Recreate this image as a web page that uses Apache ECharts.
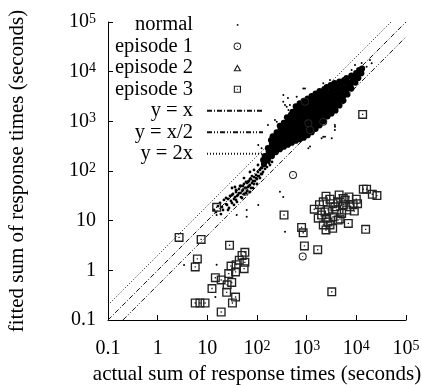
<!DOCTYPE html>
<html><head><meta charset="utf-8">
<script src="https://cdn.jsdelivr.net/npm/echarts@6/dist/echarts.min.js"></script>
<style>html,body{margin:0;padding:0;background:#fff}#c{width:422px;height:385px}</style>
</head><body><div id="c"></div>
<script>
// ---------- data ----------
const tickLabels = ['0.1', '1', '10', '10^2', '10^3', '10^4', '10^5'];

const normalCore = [
 [138,138],[133,166],[143,200],
 [166,166],[160,200],[172,240],[166,288],
 [200,200],[192,240],[207,288],[200,347],[192,417],[207,501],
 [240,240],[231,288],[249,347],[240,417],[231,501],[249,603],
 [288,275],[277,331],[299,398],[288,479],[277,575],[299,692],[288,813],
 [347,309],[334,372],[360,447],[347,537],[334,646],[360,776],[347,933],
 [417,339],[401,407],[432,490],[417,589],[401,708],[432,851],[417,1023],[401,1202],
 [501,372],[482,447],[520,537],[501,646],[482,776],[520,933],[501,1122],[482,1349],[520,1549],
 [603,407],[580,490],[625,589],[603,708],[580,851],[625,1023],[603,1230],[580,1479],[625,1778],[603,1995],
 [724,437],[697,525],[751,631],[724,759],[697,912],[751,1096],[724,1318],[697,1585],[751,1905],[724,2291],
 [871,468],[838,562],[903,676],[871,813],[838,977],[903,1175],[871,1413],[838,1698],[903,2042],[871,2570],
 [1047,525],[1007,631],[1086,759],[1047,912],[1007,1096],[1086,1318],[1047,1585],[1007,1905],[1086,2291],[1047,2884],
 [1259,603],[1211,724],[1306,871],[1259,1047],[1211,1259],[1306,1514],[1259,1820],[1211,2188],[1306,2630],[1259,3236],
 [1514,708],[1456,851],[1570,1023],[1514,1230],[1456,1479],[1570,1778],[1514,2138],[1456,2570],[1570,3090],[1514,3631],
 [1820,832],[1751,1000],[1888,1202],[1820,1445],[1751,1738],[1888,2089],[1820,2512],[1751,3020],[1888,3631],[1820,4074],
 [2188,1000],[2105,1202],[2270,1445],[2188,1738],[2105,2089],[2270,2512],[2188,3020],[2105,3631],[2270,4467],
 [2630,1259],[2530,1514],[2728,1820],[2630,2188],[2530,2630],[2728,3162],[2630,3802],[2530,4898],
 [3162,1445],[3042,1738],[3280,2089],[3162,2512],[3042,3020],[3280,3631],[3162,4365],[3042,5370],
 [3802,1660],[3658,1995],[3944,2399],[3802,2884],[3658,3467],[3944,4169],[3802,5012],[3658,5888],
 [4571,2089],[4397,2512],[4742,3020],[4571,3631],[4397,4365],[4742,5248],[4571,6310],
 [5495,2630],[5286,3162],[5701,3802],[5495,4571],[5286,5495],[5701,6761],
 [6607,3467],[6356,4169],[6854,5012],[6607,6026],[6356,7413],
 [7943,4571],[7641,5495],[8241,6607],[7943,8318],
 [9550,6026],[9187,7244],[9907,9333],
 [10965,7413],[10548,9120],[11375,10715],
 [12589,9333],[13060,11482]
];

const normalTail = [
 [13.6,16.4],[16.4,19.7],[18,22.7],[19.7,18.8],[21.6,26.1],[23.8,21.6],[26.1,27.3],[28.6,31.4],
 [29.9,24.9],[32.9,34.4],[36,29.9],[37.8,37.8],[41.4,32.9],[43.4,43.4],[45.5,36],[47.6,49.9],
 [52.2,41.4],[54.7,54.7],[57.3,45.5],[60,36],[62.9,57.3],[65.9,47.6],[69,62.9],[72.2,52.2],
 [75.6,69],[79.2,57.3],[83,45.5],[86.9,75.6],[91.1,62.9],[95.4,83],[100,69],[104.7,95.4],
 [109.7,79],[114.9,105],[120.3,87],[126.1,115],[132,95.4],[138.3,132],[144.9,110],[151.8,145],
 [158.9,120],[166.4,166],[182.6,183],[200.4,152],[37.8,26.1],[49.9,28.6],[26.1,16.4],[72.2,37.8],
 [31.4,45.5],[54.7,72.2],[18.8,13.6],[86.9,105],[151.8,200],
 [14.9,14.9],[20.7,16.4],[24.9,20.7],[27.3,18],[31.4,22.7],[34.4,27.3],[34.4,20.7],[39.5,31.4],
 [39.5,23.8],[43.4,36],[47.6,29.9],[49.9,39.5],[52.2,49.9],[54.7,34.4],[60,45.5],[62.9,39.5],
 [65.9,60],[69,49.9],[72.2,69],[75.6,45.5],[79.2,79],[83,62.9],[86.9,54.7],[95.4,72.2],
 [100,54.7],[104.7,79],[114.9,72.2],[120.3,115],[126.1,87],[132,126],[144.9,166],[144.9,132],
 [158.9,183],[174,145],[182.6,132],[60,60],[45.5,49.9],[37.8,41.4],[31.4,32.9],[36,47.6],
 [23.8,28.6],[72.2,95.4],[104.7,132]
];

const normalSparse = [
 [340,3400],[430,1690],[250,980],[2950,6800],[3700,840],[3200,455],[1170,310],[18800,17200],
 [925,4600],[420,2950],[366,2130],[230,1060],[166,840],[500,1560],[3190,5400],[5900,6300],
 [8050,10800],[9400,13600],[12800,14900],[2000,455],[1470,670],[2340,490],[3720,780],[106,333],
 [124,286],[2160,490],[3700,670],[1080,286],[855,4600],[338,2480],[396,1970],[461,2130],
 [630,3130],[5460,2300],[2160,5830],[10200,10000],[16100,12600],[20400,14700],[366,6],[106,20.7],
 [62,16.4],[39,13],[15.4,13],[15.4,1.3],[14.5,0.29],[3.4,1.28],[290,38],[338,30],[62,12]
];

const episode1 = [[531,83],[832,1.9],[925,2480],[1170,670],[57,38],[2160,980],[1080,910]];
const episode2 = [];
const episode3 = [
 [2.7,4.6],[7.5,4.2],[15.4,18.6],[28,3.2],[6.3,1.7],[5.7,1.17],[57,2.3],[50,2.0],[44,1.6],[57,1.45],
 [38,1.3],[30,1.22],[55,1.08],[37,0.93],[27,0.86],[14.5,0.71],[19,0.64],[31,0.57],[25,0.51],
 [12.4,0.43],[24.5,0.36],[37,0.29],[32,0.22],[5.7,0.22],[7.1,0.22],[9,0.22],[19,0.145],
 [350,13],[790,7.3],[850,5.7],[900,3.1],[1670,2.6],[3200,0.37],[15400,6.7],[6900,8.8],[13400,1380],
 [2450,31],[4500,33],[13800,43],[16100,43],[21000,34],[26000,32],[7100,30],[10000,27],[10600,22],
 [1420,17],[1810,21],[2160,24],[3400,22],[5500,21],[7400,19],[2000,13],[2530,11.2],[3400,12],
 [4300,10.3],[2950,8.2],[2450,6.5],[3340,7.0],[2160,8.2],[9100,15.6],[6400,16.4],[5070,14],
 [4000,16.4],[2700,16.4],[1710,11.2],[5460,28],[2950,27],[3700,19],[5900,26],[8600,21],
 [4700,10.8],[2340,15],[4270,24],[2690,9.4]
];

const lineYeqX = [[0.1,0.1],[100000,100000]];
const lineYeqHalfX = [[0.2,0.1],[100000,50000]];
const lineYeq2X = [[0.1,0.2],[50000,100000]];

// ---------- styling ----------
const F = 'Liberation Serif';
const SQ = 'path://M0,0H20V20H0Z M3,3V17H17V3Z M8.5,8.5H11.5V11.5H8.5Z';
const CI = 'path://M10,0A10,10,0,1,1,10,20A10,10,0,1,1,10,0Z M10,2.6A7.4,7.4,0,1,0,10,17.4A7.4,7.4,0,1,0,10,2.6Z M10,8.6A1.4,1.4,0,1,1,10,11.4A1.4,1.4,0,1,1,10,8.6Z';
const TR = 'path://M10,0L20,18H0Z M10,5.5L4.2,15.5H15.8Z M10,10L11.3,12.3H8.7Z';
// wide legend icons (box 140x20 == 56x8 px), symbol centred near 76
const L_DOT = 'path://M0,0M140,20M74.5,8.5H78.5V12.5H74.5Z';
const L_CI = 'path://M0,0M140,20M76,0.5A9.5,9.5,0,1,1,76,19.5A9.5,9.5,0,1,1,76,0.5Z M76,3A7,7,0,1,0,76,17A7,7,0,1,0,76,3Z M76,8.6A1.4,1.4,0,1,1,76,11.4A1.4,1.4,0,1,1,76,8.6Z';
const L_TR = 'path://M0,0M140,20M76,1L86,19H66Z M76,7L71,16.5H81Z';
const L_SQ = 'path://M0,0M140,20M67,1H85V19H67Z M69.8,3.8V16.2H82.2V3.8Z M74.6,8.6H77.4V11.4H74.6Z';

function fmt(v) {
  const i = Math.round(Math.log10(v)) + 1;
  const t = tickLabels[i];
  if (t === undefined) return '';
  const p = t.split('^');
  return p.length > 1 ? '{b|' + p[0] + '}{s|' + p[1] + '}' : '{b|' + t + '}';
}
const rich = {
  b: { fontFamily: F, fontSize: 20, color: '#000' },
  s: { fontFamily: F, fontSize: 14, color: '#000', verticalAlign: 'top', lineHeight: 8 }
};
function axis(name, gap, margin) {
  return {
    type: 'log', logBase: 10, min: 0.1, max: 100000, interval: 1,
    name: name, nameLocation: 'middle', nameGap: gap,
    nameTextStyle: { fontFamily: F, fontSize: 21, color: '#000' },
    axisLine: { show: true, lineStyle: { color: '#000', width: 1 } },
    axisTick: { show: true, inside: true, length: 5, lineStyle: { color: '#000', width: 1 } },
    minorTick: { show: false },
    splitLine: { show: false },
    axisLabel: { formatter: fmt, rich: rich, margin: margin, color: '#000', showMinLabel: true, showMaxLabel: true }
  };
}
function dotted(name, data, dash) {
  return {
    name: name, type: 'line', data: data, symbol: 'none', silent: true, z: 1,
    itemStyle: { color: '#111', opacity: 0 },
    lineStyle: { color: '#111', width: 1, type: dash }
  };
}
function scat(name, data, sym, size, color, z) {
  return {
    name: name, type: 'scatter', data: data, symbol: sym, symbolSize: size,
    symbolKeepAspect: true, silent: true, z: z,
    itemStyle: { color: color, opacity: 1 }
  };
}

const chart = echarts.init(document.getElementById('c'), null, { renderer: 'canvas' });
chart.setOption({
  animation: false,
  backgroundColor: '#fff',
  grid: { left: 108, right: 16, top: 22, bottom: 65, containLabel: false, outerBoundsMode: 'none' },
  xAxis: axis('actual sum of response times (seconds)', 42, 19),
  yAxis: axis('fitted sum of response times (seconds)', 80, 12),
  legend: {
    orient: 'vertical', align: 'right', right: 158, top: 14, padding: 0,
    itemWidth: 56, itemHeight: 8, itemGap: 0, selectedMode: false,
    textStyle: { fontFamily: F, fontSize: 20.5, color: '#000', lineHeight: 21.5, padding: [0, 9, 0, 0] },
    data: [
      { name: 'normal', icon: L_DOT },
      { name: 'episode 1', icon: L_CI },
      { name: 'episode 2', icon: L_TR },
      { name: 'episode 3', icon: L_SQ },
      'y = x', 'y = x/2', 'y = 2x'
    ]
  },
  series: [
    scat('normal', normalSparse, 'circle', 2, '#000', 3),
    scat('normal', normalTail, 'circle', 2.8, '#000', 3),
    scat('normal', normalCore, 'circle', 6.2, '#000', 3),
    scat('episode 1', episode1, CI, 8, '#222', 5),
    scat('episode 2', episode2, TR, 8, '#222', 5),
    scat('episode 3', episode3, SQ, 9, '#222', 6),
    dotted('y = x', lineYeqX, [5, 2, 1, 2]),
    dotted('y = x/2', lineYeqHalfX, [5, 2, 1, 2, 1, 2]),
    dotted('y = 2x', lineYeq2X, [1, 2])
  ]
});
</script></body></html>
